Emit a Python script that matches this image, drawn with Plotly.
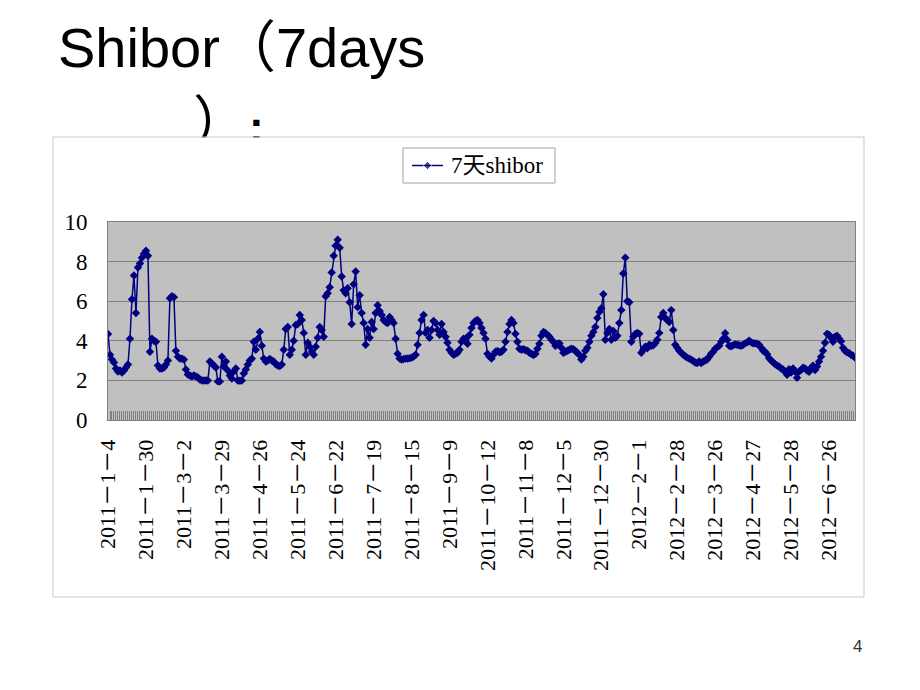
import plotly.graph_objects as go

W, H = 920, 690

# ---------------- data ----------------
series_name = "7天shibor"
tick_labels = ["2011－1－4", "2011－1－30", "2011－3－2", "2011－3－29", "2011－4－26",
               "2011－5－24", "2011－6－22", "2011－7－19", "2011－8－15", "2011－9－9",
               "2011－10－12", "2011－11－8", "2011－12－5", "2011－12－30", "2012－2－1",
               "2012－2－28", "2012－3－26", "2012－4－27", "2012－5－28", "2012－6－26"]
label_step = 19  # one label every 19 trading days
y_ticks = [0, 2, 4, 6, 8, 10]

values = [
    4.34, 3.3, 3.05, 2.9, 2.6, 2.45, 2.5, 2.4, 2.5, 2.65,
    2.8, 4.1, 6.1, 7.3, 5.4, 7.7, 7.9, 8.2, 8.4, 8.55,
    8.3, 3.45, 4.1, 4.0, 3.95, 2.75, 2.6, 2.6, 2.65, 2.8,
    3.0, 6.15, 6.25, 6.2, 3.5, 3.2, 3.1, 3.1, 3.05, 2.55,
    2.3, 2.25, 2.2, 2.25, 2.2, 2.15, 2.05, 2.0, 2.0, 2.0,
    2.0, 2.95, 2.85, 2.75, 2.65, 1.95, 1.95, 3.2, 2.7, 2.95,
    2.5, 2.25, 2.1, 2.45, 2.6, 2.0, 1.98, 2.0, 2.35, 2.55,
    2.8, 3.0, 3.1, 3.95, 3.55, 4.1, 4.45, 3.75, 3.1, 2.95,
    3.0, 3.08, 3.0, 2.95, 2.82, 2.75, 2.72, 2.8, 3.55, 4.6,
    4.7, 3.3, 3.55, 4.0, 4.8, 4.85, 5.3, 5.05, 4.4, 3.3,
    3.9, 3.7, 3.45, 3.3, 3.7, 4.15, 4.7, 4.55, 4.2, 6.25,
    6.4, 6.7, 7.45, 8.3, 8.8, 9.1, 8.7, 7.25, 6.55, 6.4,
    6.65, 5.95, 4.85, 6.85, 7.5, 5.7, 6.3, 5.4, 4.9, 3.8,
    4.6, 4.15, 4.95, 4.6, 5.4, 5.8, 5.5, 5.3, 5.05, 4.95,
    4.9, 5.2, 5.05, 4.9, 4.1, 3.35, 3.1, 3.05, 3.08, 3.1,
    3.1, 3.12, 3.15, 3.2, 3.3, 3.8, 4.4, 5.05, 5.3, 4.4,
    4.55, 4.15, 4.55, 5.0, 4.9, 4.55, 4.3, 4.85, 4.45, 4.2,
    3.9, 3.55, 3.4, 3.3, 3.35, 3.4, 3.55, 3.95, 4.1, 4.1,
    3.85, 4.3, 4.65, 4.9, 5.0, 5.05, 4.9, 4.65, 4.4, 4.1,
    3.35, 3.2, 3.1, 3.3, 3.45, 3.48, 3.42, 3.45, 3.55, 3.95,
    4.45, 4.85, 5.05, 4.9, 4.35, 3.95, 3.6, 3.55, 3.58, 3.52,
    3.5, 3.4, 3.35, 3.28, 3.35, 3.6, 3.85, 4.25, 4.45, 4.4,
    4.3, 4.2, 4.05, 3.95, 3.75, 3.85, 3.87, 3.65, 3.4, 3.45,
    3.5, 3.55, 3.6, 3.58, 3.48, 3.4, 3.28, 3.05, 3.2, 3.5,
    3.65, 3.95, 4.25, 4.45, 4.7, 5.15, 5.45, 5.65, 6.35, 4.05,
    4.4, 4.6, 4.05, 4.5, 4.15, 4.25, 4.9, 5.55, 7.4, 8.2,
    6.0, 5.95, 3.95, 4.2, 4.35, 4.4, 4.35, 3.4, 3.55, 3.7,
    3.62, 3.8, 3.75, 3.78, 3.87, 4.05, 4.4, 5.2, 5.4, 5.15,
    5.05, 4.95, 5.55, 4.55, 3.8, 3.65, 3.5, 3.4, 3.3, 3.22,
    3.15, 3.1, 3.05, 2.98, 2.9, 2.88, 2.95, 2.88, 2.95, 3.0,
    3.05, 3.2, 3.35, 3.45, 3.6, 3.68, 3.75, 3.95, 4.1, 4.38,
    4.05, 3.75, 3.72, 3.78, 3.82, 3.8, 3.78, 3.75, 3.8, 3.87,
    3.92, 4.0, 3.92, 3.88, 3.87, 3.85, 3.8, 3.65, 3.5, 3.45,
    3.32, 3.12, 3.0, 2.92, 2.82, 2.75, 2.7, 2.6, 2.55, 2.44,
    2.28, 2.57, 2.4, 2.6, 2.45, 2.13, 2.45, 2.52, 2.64, 2.6,
    2.5, 2.44, 2.64, 2.74, 2.52, 2.7, 2.95, 3.2, 3.5, 3.9,
    4.35, 4.3, 4.15, 3.95, 4.2, 4.25, 4.12, 3.98, 3.65, 3.5,
    3.42, 3.38, 3.3, 3.25, 3.15,
]

title_line1 = "Shibor（7days"
title_line2 = "）<span style='font-size:44px'><b>:</b></span>"
page_number = "4"

# ---------------- layout geometry (pixels) ----------------
px0, px1 = 108, 855        # plot area left / right
py0, py1 = 222, 420        # plot area top / bottom
box = (53, 137, 864, 597)  # chart frame
leg = (403, 148, 555, 183) # legend frame
title_h = 200              # height of the pixel-coordinate strip at the top

x = list(range(len(values)))
tickvals = [k * label_step for k in range(len(tick_labels))]

serif = "Liberation Serif, 'Noto Sans CJK SC', serif"
sans = "Liberation Sans, Arial, 'Noto Sans CJK SC', sans-serif"
navy = "#000080"


def px(xp):
    return xp / W


def py(yp):
    return 1 - yp / H


fig = go.Figure()
fig.add_trace(go.Scatter(
    x=x, y=values, mode="lines+markers", name=series_name,
    line=dict(color=navy, width=1.5),
    marker=dict(symbol="diamond", size=6.5, color=navy),
    hoverinfo="skip", showlegend=False,
))

# title text as text traces in a pixel-coordinate strip at the top
txt = dict(mode="text", textposition="middle right", xaxis="x2", yaxis="y2",
           showlegend=False, cliponaxis=False, hoverinfo="skip")
fig.add_trace(go.Scatter(x=[58], y=[53], text=[title_line1],
                         textfont=dict(family=sans, size=56, color="black"), **txt))
fig.add_trace(go.Scatter(x=[193], y=[128], text=[title_line2],
                         textfont=dict(family=sans, size=56, color="black"), **txt))

# legend sample (line + diamond) in the same pixel strip
leg_cy = (leg[1] + leg[3]) / 2
fig.add_trace(go.Scatter(
    x=[412, 427.5, 443], y=[leg_cy] * 3, mode="lines+markers",
    line=dict(color=navy, width=1.5),
    marker=dict(symbol="diamond", size=[0, 6.5, 0], color=navy),
    xaxis="x2", yaxis="y2", showlegend=False, cliponaxis=False, hoverinfo="skip",
))

fig.update_layout(
    width=W, height=H,
    margin=dict(l=0, r=0, t=0, b=0, autoexpand=False),
    paper_bgcolor="white",
    plot_bgcolor="rgba(0,0,0,0)",
    xaxis=dict(
        domain=[px(px0), px(px1)], range=[0, len(values) - 1],
        tickmode="array", tickvals=tickvals, ticktext=tick_labels,
        tickangle=-90, ticks="inside", ticklen=9, tickcolor="#808080", tickwidth=1,
        minor=dict(dtick=1, tick0=0, ticks="inside", ticklen=9,
                   tickcolor="#808080", tickwidth=1, showgrid=False),
        ticklabelstandoff=10,
        tickfont=dict(family=serif, size=22, color="black"),
        showgrid=False, zeroline=False,
        showline=True, linecolor="#808080", linewidth=1, mirror=True,
    ),
    yaxis=dict(
        domain=[py(py1), py(py0)], range=[0, 10],
        tickmode="array", tickvals=y_ticks, ticktext=[str(v) for v in y_ticks],
        tickfont=dict(family=serif, size=23, color="black"),
        ticklabelstandoff=15,
        showgrid=True, gridcolor="#808080", gridwidth=1, zeroline=False,
        showline=True, linecolor="#808080", linewidth=1, mirror=True,
    ),
    xaxis2=dict(domain=[0, 1], anchor="y2", range=[0, W], visible=False, fixedrange=True),
    yaxis2=dict(domain=[py(title_h), 1], anchor="x2", range=[title_h, 0],
                visible=False, fixedrange=True),
    shapes=[
        # grey plot area background
        dict(type="rect", xref="x domain", yref="y domain", x0=0, x1=1, y0=0, y1=1,
             fillcolor="#c0c0c0", line=dict(width=0), layer="below"),
        # legend frame
        dict(type="rect", xref="paper", yref="paper",
             x0=px(leg[0]), x1=px(leg[2]), y0=py(leg[3]), y1=py(leg[1]),
             fillcolor="white", line=dict(color="#a0a0a0", width=1), layer="below"),
        # cover the lower part of the title's second line (behind the chart frame)
        dict(type="rect", xref="paper", yref="paper",
             x0=px(box[0] + 5), x1=px(395), y0=py(title_h), y1=py(box[1] + 0.5),
             fillcolor="white", line=dict(width=0), layer="above"),
        # chart frame
        dict(type="rect", xref="paper", yref="paper",
             x0=px(box[0]), x1=px(box[2]), y0=py(box[3]), y1=py(box[1]),
             fillcolor="rgba(0,0,0,0)", line=dict(color="#c8c8c8", width=1), layer="above"),
    ],
    annotations=[
        dict(text=series_name, x=px(449), y=py(leg_cy), xref="paper", yref="paper",
             xanchor="left", yanchor="middle", showarrow=False,
             font=dict(family=serif, size=23, color="black")),
        dict(text=page_number, x=px(857), y=py(646), xref="paper", yref="paper",
             xanchor="center", yanchor="middle", showarrow=False,
             font=dict(family=sans, size=17, color="#333333")),
    ],
)

fig.write_html("out.html")
